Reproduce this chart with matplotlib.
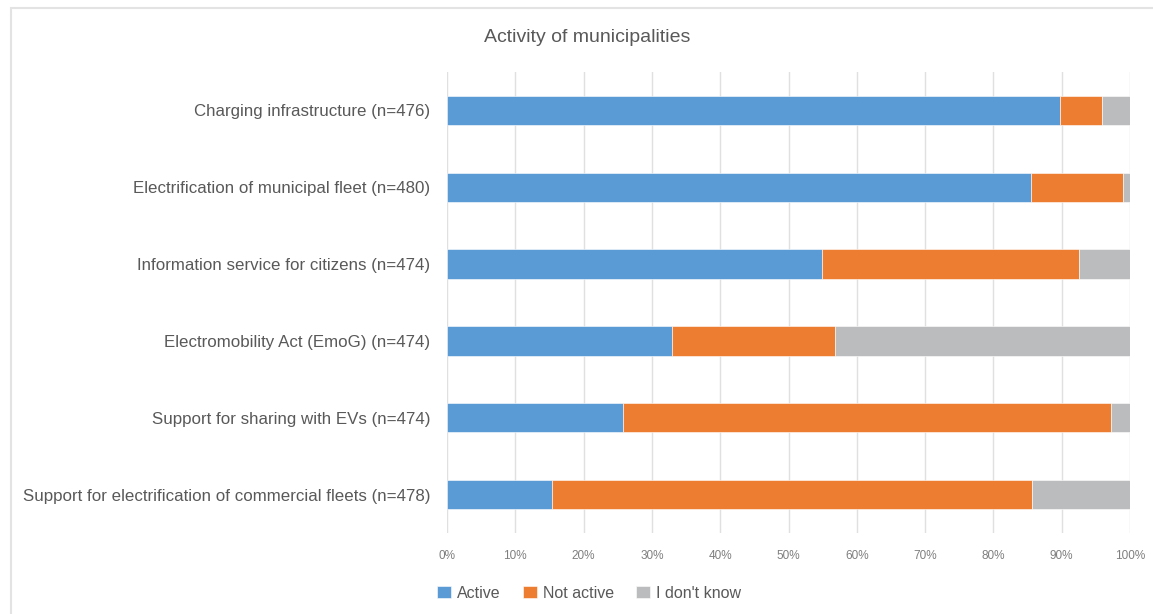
import matplotlib
matplotlib.use("Agg")
import matplotlib.pyplot as plt
from matplotlib.patches import Rectangle
import numpy as np

plt.rcParams['font.family'] = ['Liberation Sans', 'DejaVu Sans']

categories = [
    "Charging infrastructure (n=476)",
    "Electrification of municipal fleet (n=480)",
    "Information service for citizens (n=474)",
    "Electromobility Act (EmoG) (n=474)",
    "Support for sharing with EVs (n=474)",
    "Support for electrification of commercial fleets (n=478)",
]
active = [89.8, 85.5, 54.9, 33.0, 25.8, 15.4]
not_active = [6.1, 13.5, 37.6, 23.8, 71.4, 70.3]
dont_know = [4.1, 1.0, 7.5, 43.2, 2.8, 14.3]

series = [("Active", active, "#5B9BD5"),
          ("Not active", not_active, "#ED7D31"),
          ("I don't know", dont_know, "#BBBCBD")]

fig = plt.figure(figsize=(11.53, 6.14), dpi=100)
fig.patches.append(Rectangle((11 / 1153, -0.1), 1.2, (614 - 8) / 614 + 0.1,
                             transform=fig.transFigure, fill=False,
                             edgecolor="#E3E3E3", linewidth=1.5))

ax = fig.add_axes([447 / 1153, (614 - 533) / 614, 683 / 1153, 461 / 614])
y = np.arange(len(categories))[::-1]
left = np.zeros(len(categories))
for name, vals, col in series:
    ax.barh(y, vals, left=left, height=0.38, color=col, label=name,
            edgecolor="white", linewidth=0.4, zorder=3)
    left += np.array(vals)

ax.set_xlim(0, 100)
ax.set_ylim(-0.5, len(categories) - 0.5)
ax.set_xticks(range(0, 101, 10))
ax.set_xticklabels([f"{v}%" for v in range(0, 101, 10)])
ax.set_yticks(y)
ax.set_yticklabels(categories)
ax.grid(axis="x", color="#E0E0E0", linewidth=1, zorder=0)
for s in ax.spines.values():
    s.set_visible(False)
ax.tick_params(axis="x", length=0, pad=12, labelsize=8.5, labelcolor="#7F7F7F")
ax.tick_params(axis="y", length=0, pad=12, labelsize=12.2, labelcolor="#595959")

fig.text(0.509, 1 - 37 / 614, "Activity of municipalities", ha="center", va="center",
         fontsize=14, color="#595959")

fig.legend(loc="center", bbox_to_anchor=(0.511, 1 - 593 / 614), ncol=3, frameon=False,
           fontsize=11.5, labelcolor="#595959", handlelength=0.85, handleheight=0.85,
           handletextpad=0.4, columnspacing=1.4)

fig.savefig("out.png", dpi=100)
